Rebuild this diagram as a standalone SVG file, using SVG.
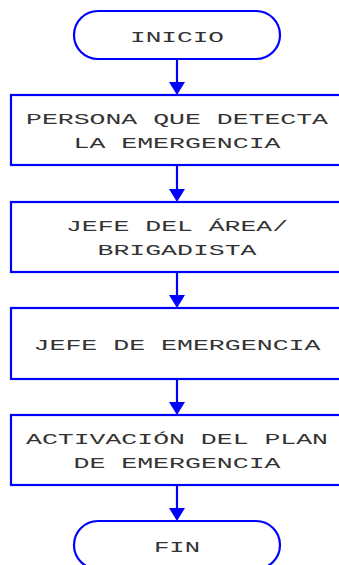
<svg xmlns="http://www.w3.org/2000/svg" width="339" height="565" viewBox="0 0 339 565">
<style>
.shape{fill:#fff;stroke:#0000ff;stroke-width:2.2}
.conn{stroke:#0000ff;stroke-width:2.2;fill:none}
.head{fill:#0000ff}
text{font-family:"Liberation Mono","DejaVu Sans Mono",monospace;font-size:14.5px;fill:#333;text-anchor:middle}
</style>
<rect width="339" height="565" fill="#fff"/>
<g id="connectors">
<line class="conn" x1="177" y1="59" x2="177" y2="84"/>
<polygon class="head" points="169,82 185,82 177,95"/>
<line class="conn" x1="177" y1="165" x2="177" y2="191"/>
<polygon class="head" points="169,189 185,189 177,202"/>
<line class="conn" x1="177" y1="272" x2="177" y2="297"/>
<polygon class="head" points="169,295 185,295 177,308"/>
<line class="conn" x1="177" y1="379" x2="177" y2="404"/>
<polygon class="head" points="169,402 185,402 177,415"/>
<line class="conn" x1="177" y1="485" x2="177" y2="510"/>
<polygon class="head" points="169,508 185,508 177,521"/>
</g>
<g id="inicio">
<rect class="shape" x="74" y="11" width="206" height="48" rx="24" ry="24"/>
<text x="177" y="41.5" textLength="94" lengthAdjust="spacingAndGlyphs">INICIO</text>
</g>
<g id="persona">
<rect class="shape" x="11" y="95" width="332" height="70"/>
<text x="177" y="123.5" textLength="302" lengthAdjust="spacingAndGlyphs">PERSONA QUE DETECTA</text>
<text x="177" y="148" textLength="207" lengthAdjust="spacingAndGlyphs">LA EMERGENCIA</text>
</g>
<g id="jefe-area">
<rect class="shape" x="11" y="202" width="332" height="70"/>
<text x="177" y="231" textLength="222" lengthAdjust="spacingAndGlyphs">JEFE DEL ÁREA/</text>
<text x="177" y="255" textLength="159" lengthAdjust="spacingAndGlyphs">BRIGADISTA</text>
</g>
<g id="jefe-emergencia">
<rect class="shape" x="11" y="308" width="332" height="71"/>
<text x="177" y="350" textLength="287" lengthAdjust="spacingAndGlyphs">JEFE DE EMERGENCIA</text>
</g>
<g id="activacion">
<rect class="shape" x="11" y="415" width="332" height="70"/>
<text x="177" y="444" textLength="302" lengthAdjust="spacingAndGlyphs">ACTIVACIÓN DEL PLAN</text>
<text x="177" y="467.5" textLength="207" lengthAdjust="spacingAndGlyphs">DE EMERGENCIA</text>
</g>
<g id="fin">
<rect class="shape" x="74" y="521" width="206" height="48" rx="24" ry="24"/>
<text x="177" y="551.5" textLength="46" lengthAdjust="spacingAndGlyphs">FIN</text>
</g>
</svg>
